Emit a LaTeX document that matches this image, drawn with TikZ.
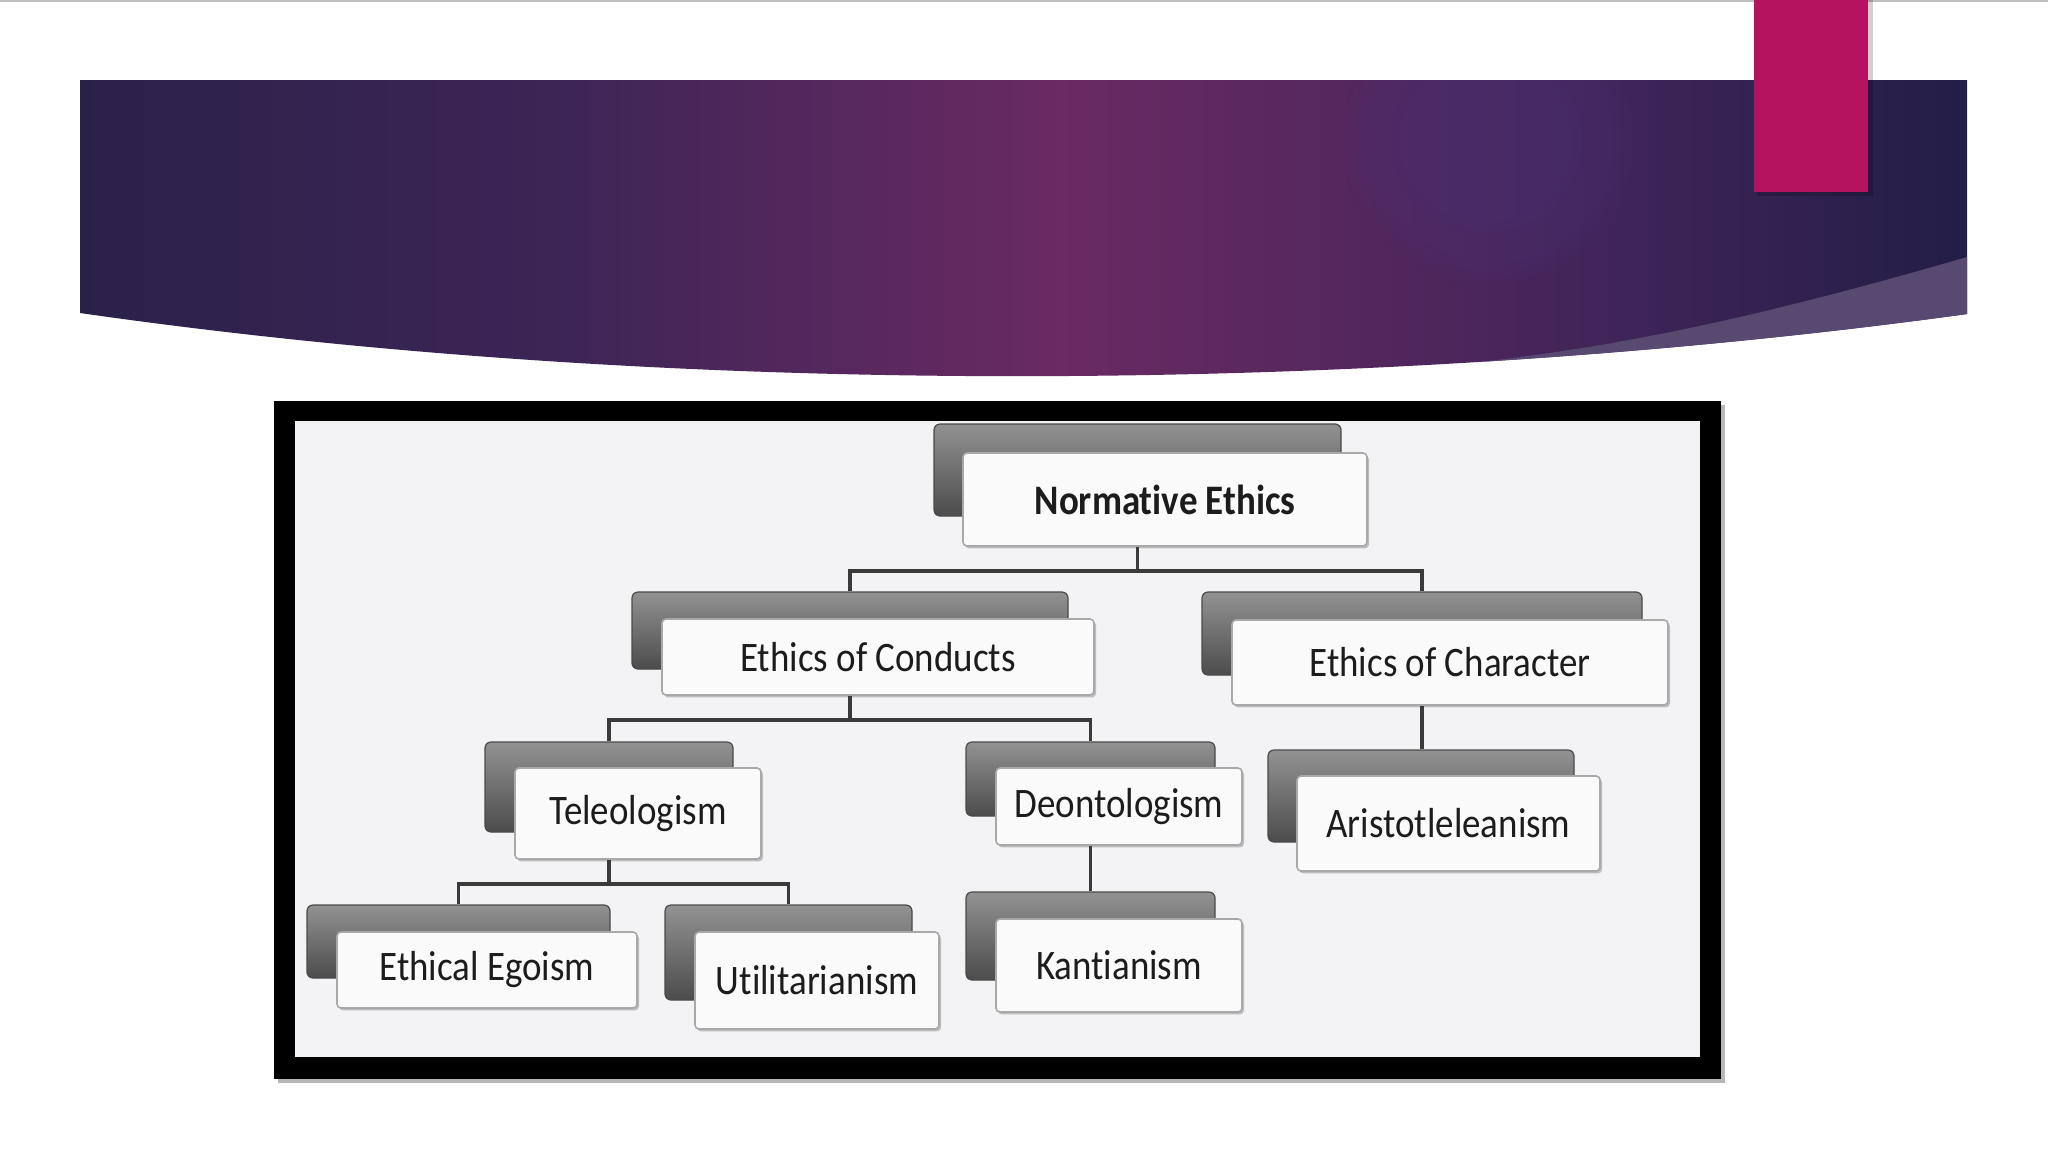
\documentclass[tikz,border=0pt]{standalone}
\usepackage{fontspec}
\setmainfont{Carlito}
\newfontfamily\boxfont[FakeStretch=0.88, Ligatures=NoCommon]{Carlito}
\usetikzlibrary{fit,shadows,fadings}
\definecolor{bnA}{HTML}{2A2149}
\definecolor{bnB}{HTML}{3E2557}
\definecolor{bnC}{HTML}{6A2A63}
\definecolor{bnD}{HTML}{3F2459}
\definecolor{bnE}{HTML}{221E47}
\definecolor{bandC}{HTML}{574970}
\definecolor{glowC}{HTML}{4A3072}
\definecolor{magC}{HTML}{B5135F}
\definecolor{frameIn}{HTML}{F3F3F5}
\definecolor{bkTop}{HTML}{929292}
\definecolor{bkBot}{HTML}{4C4C4C}
\definecolor{bkLine}{HTML}{4A4A4A}
\definecolor{frontFill}{HTML}{FAFAFA}
\definecolor{frontLine}{HTML}{A8A8A8}
\definecolor{txtC}{HTML}{1C1C1C}
\definecolor{connC}{HTML}{3A3A3A}
\pgfdeclarehorizontalshading{bannershade}{100bp}{color(0bp)=(bnA); color(25bp)=(bnA); color(38bp)=(bnB); color(51bp)=(bnC); color(66bp)=(bnD); color(75bp)=(bnE); color(100bp)=(bnE)}
\tikzset{
  backbox/.style={rounded corners=3pt, top color=bkTop, bottom color=bkBot, draw=bkLine, line width=0.6pt, inner sep=0pt},
  frontbox/.style={rounded corners=2pt, fill=frontFill, draw=frontLine, line width=0.8pt, inner sep=0pt,
    drop shadow={shadow xshift=1pt, shadow yshift=-1.2pt, fill=black, opacity=0.22}},
  lbl/.style={inner sep=0pt, anchor=center, font=\boxfont\fontsize{21}{24}\selectfont, text=txtC},
  conn/.style={draw=connC, line width=1.6pt},
}
\begin{document}
\begin{tikzpicture}[x=0.5pt, y=-0.5pt]
\useasboundingbox (0,0) rectangle (2048,1152);
\fill[white] (0,0) rectangle (2048,1152);
\draw[black!25, line width=1pt] (0,1) -- (2048,1);
% banner
\path[shading=bannershade] (80,80) -- (1967,80) -- (1967,314) .. controls (1400,392) and (700,402) .. (80,313) -- cycle;
\begin{scope}
  \clip (80,80) -- (1967,80) -- (1967,314) .. controls (1400,392) and (700,402) .. (80,313) -- cycle;
  \fill[glowC, path fading=circle with fuzzy edge 20 percent, opacity=0.3] (1490,140) circle (150);
  \fill[glowC, path fading=circle with fuzzy edge 20 percent, opacity=0.25] (1490,140) circle (100);
  \fill[bandC] (1967,257) .. controls (1750,320) and (1600,352) .. (1420,368) -- (1380,430) -- (1990,430) -- (1990,257) -- cycle;
\end{scope}
\fill[black, opacity=0.18] (1757,0) rectangle (1873,196);
\fill[magC] (1754,0) rectangle (1868,192);
% frame
\fill[black!28] (278,405) rectangle (1725,1083);
\fill[black] (274,401) rectangle (1721,1079);
\fill[frameIn] (295,421) rectangle (1700,1057);
% nodes
\node[backbox, fit={(934,424) (1341,516)}] (neb) {};
\node[frontbox, fit={(963,453) (1367,546)}] (ne) {};
\node[lbl, font=\boxfont\bfseries\fontsize{21}{24}\selectfont] (net) at (ne.center) {Normative Ethics};
\node[backbox, fit={(632,592) (1068,669)}] (eocb) {};
\node[frontbox, fit={(662,619) (1094,695)}] (eoc) {};
\node[lbl] (eoct) at (eoc.center) {Ethics of Conducts};
\node[backbox, fit={(1202,592) (1642,675)}] (echb) {};
\node[frontbox, fit={(1232,620) (1668,705)}] (ech) {};
\node[lbl] (echt) at (ech.center) {Ethics of Character};
\node[backbox, fit={(485,742) (733,832)}] (telb) {};
\node[frontbox, fit={(515,768) (761,859)}] (tel) {};
\node[lbl] (telt) at (tel.center) {Teleologism};
\node[backbox, fit={(966,742) (1215,816)}] (deob) {};
\node[frontbox, fit={(996,768) (1242,845)}] (deo) {};
\node[lbl] (deot) at (deo.center) {Deontologism};
\node[backbox, fit={(1268,750) (1574,842)}] (arib) {};
\node[frontbox, fit={(1297,776) (1600,871)}] (ari) {};
\node[lbl] (arit) at (ari.center) {Aristotleleanism};
\node[backbox, fit={(307,905) (610,978)}] (egob) {};
\node[frontbox, fit={(337,932) (637,1008)}] (ego) {};
\node[lbl] (egot) at (ego.center) {Ethical Egoism};
\node[backbox, fit={(665,905) (912,1000)}] (utib) {};
\node[frontbox, fit={(695,932) (939,1029)}] (uti) {};
\node[lbl] (utit) at (uti.center) {Utilitarianism};
\node[backbox, fit={(966,892) (1215,980)}] (kanb) {};
\node[frontbox, fit={(996,919) (1242,1012)}] (kan) {};
\node[lbl] (kant) at (kan.center) {Kantianism};
% connectors
\coordinate (bus1) at (0,571);
\coordinate (bus2) at (0,720);
\coordinate (bus3) at (0,884);
\draw[conn] (neb.center |- ne.south) -- (neb.center |- bus1) -| (eocb.north);
\draw[conn] (neb.center |- bus1) -| (echb.north);
\draw[conn] (eocb.center |- eoc.south) -- (eocb.center |- bus2) -| (telb.north);
\draw[conn] (eocb.center |- bus2) -| (deob.north);
\draw[conn] (echb.center |- ech.south) -- (echb.center |- arib.north);
\draw[conn] (telb.center |- tel.south) -- (telb.center |- bus3) -| (egob.north);
\draw[conn] (telb.center |- bus3) -| (utib.north);
\draw[conn] (deob.center |- deo.south) -- (deob.center |- kanb.north);
\end{tikzpicture}
\end{document}
